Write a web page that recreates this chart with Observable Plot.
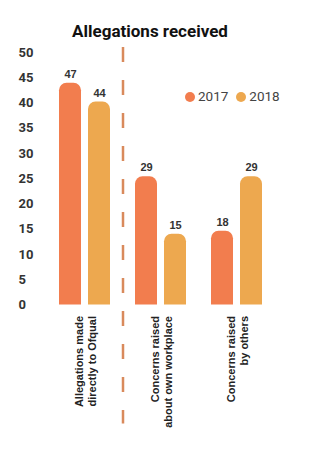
<!DOCTYPE html>
<html>
<head>
<meta charset="utf-8">
<script src="https://cdn.jsdelivr.net/npm/d3@7"></script>
<script src="https://cdn.jsdelivr.net/npm/@observablehq/plot@0.6"></script>
<style>
  html, body { margin: 0; padding: 0; background: #fff; }
  #wrap { position: relative; width: 336px; height: 453px; overflow: hidden; }
  #title { position: absolute; left: 0; top: 20px; width: 300px; text-align: center;
           font: bold 17px Roboto, sans-serif; line-height: 22px; color: #111; }
  #legend { position: absolute; left: 185px; top: 87px; font: 13.5px Roboto, sans-serif; color: #444;
            display: flex; gap: 8px; line-height: 18px; }
  #legend span.sw { display: inline-block; width: 10px; height: 10px; border-radius: 50%;
                    margin-right: 3px; vertical-align: -1px; }
  #chart { position: absolute; left: 0; top: 0; }
</style>
</head>
<body>
<div id="wrap">
  <div id="chart"></div>
  <div id="title">Allegations received</div>
  <div id="legend"></div>
</div>
<script>
const categories = ["Allegations made\ndirectly to Ofqual", "Concerns raised\nabout own workplace", "Concerns raised\nby others"];
const years = ["2017", "2018"];
const heights2017 = [43.9, 25.4, 14.6];
const heights2018 = [40.2, 14.0, 25.4];
const labels2017 = [47, 29, 18];
const labels2018 = [44, 15, 29];
const yTicks = [0, 5, 10, 15, 20, 25, 30, 35, 40, 45, 50];
const colors = ["#F27D4E", "#EDA84F"];

const rows = [];
categories.forEach((c, i) => {
  rows.push({category: c, year: years[0], height: heights2017[i], label: labels2017[i]});
  rows.push({category: c, year: years[1], height: heights2018[i], label: labels2018[i]});
});

const chart = Plot.plot({
  width: 336,
  height: 453,
  marginLeft: 57,
  marginRight: 72,
  marginTop: 52,
  marginBottom: 148.5,
  style: {background: "transparent"},
  fx: {domain: categories, paddingInner: 0.3, paddingOuter: 0, axis: null},
  x: {domain: years, paddingInner: 0.233, paddingOuter: 0, axis: null},
  y: {domain: [0, 50], label: null},
  color: {domain: years, range: colors},
  marks: [
    Plot.axisY({ticks: yTicks, label: null, tickSize: 0, tickPadding: 0, textAnchor: "start", dx: -40,
      fontSize: 13, fontWeight: "bold", fill: "#333", fontFamily: "Roboto, sans-serif"}),
    Plot.barY(rows, {fx: "category", x: "year", y: "height", fill: "year", ry1: 7.5}),
    Plot.text(rows, {fx: "category", x: "year", y: "height", text: "label", dy: -9,
      fontSize: 11, fontWeight: "bold", fill: "#333", fontFamily: "Liberation Sans, Arial, sans-serif"}),
    Plot.text(categories, {fx: d => d, text: d => d, frameAnchor: "bottom", rotate: -90,
      textAnchor: "end", lineAnchor: "middle", dy: 11, lineHeight: 1.27,
      fontSize: 11, fontWeight: "bold", fill: "#222", fontFamily: "Liberation Sans, Arial, sans-serif"}),
    Plot.ruleX([categories[0]], {fx: d => d, x: () => years[1], dx: 23.5, insetTop: -5, insetBottom: -119,
      stroke: "#D98A5C", strokeWidth: 2.5, strokeDasharray: "15,18"})
  ]
});
document.getElementById("chart").appendChild(chart);

const legend = document.getElementById("legend");
years.forEach((y, i) => {
  const item = document.createElement("span");
  const sw = document.createElement("span");
  sw.className = "sw";
  sw.style.background = colors[i];
  item.appendChild(sw);
  item.appendChild(document.createTextNode(y));
  legend.appendChild(item);
});
</script>
</body>
</html>
